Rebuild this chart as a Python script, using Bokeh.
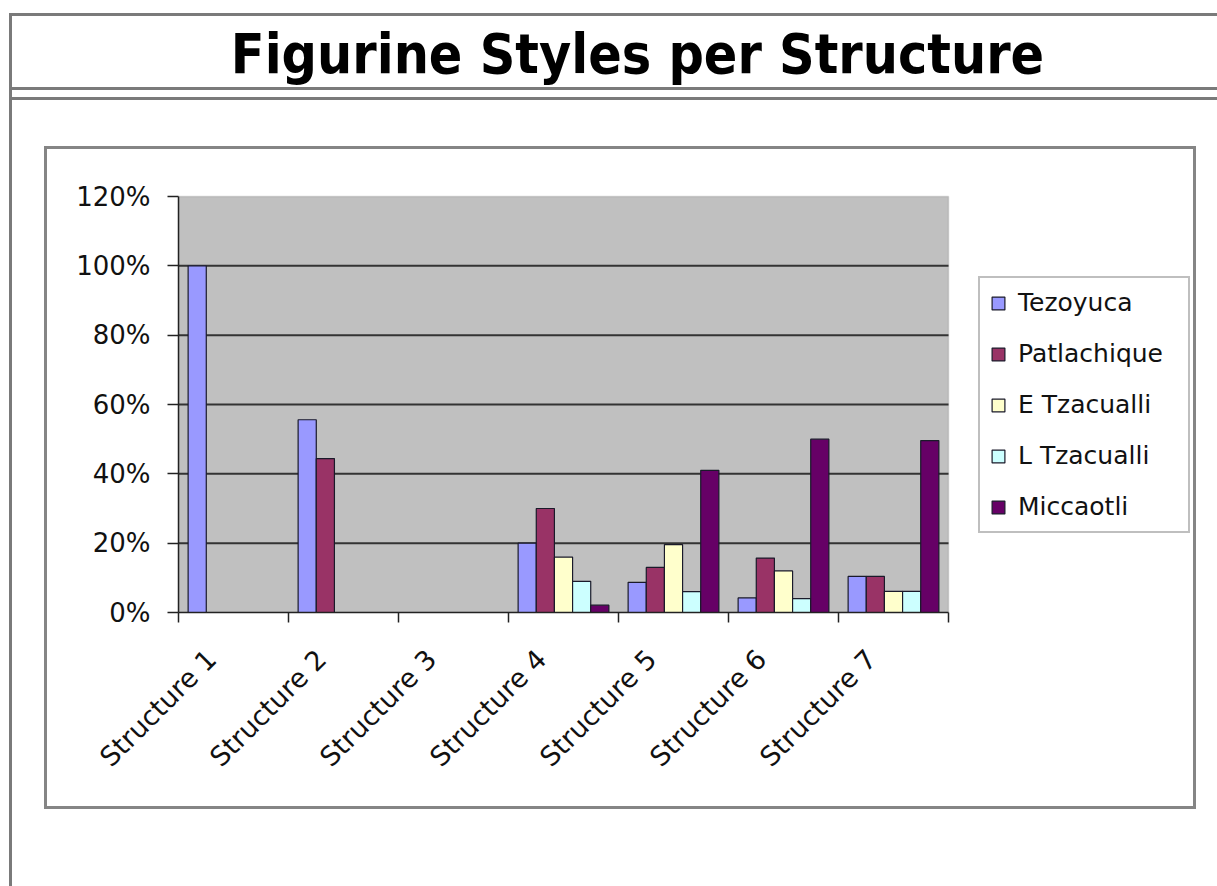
import math
from bokeh.plotting import figure
from bokeh.models import (FixedTicker, Legend, LegendItem, ColumnDataSource,
                          Range1d, NumeralTickFormatter, BoxAnnotation, Label)
from bokeh.embed import file_html
from bokeh.resources import INLINE

# ---- data ----
categories = ["Structure 1", "Structure 2", "Structure 3", "Structure 4",
              "Structure 5", "Structure 6", "Structure 7"]
series_names = ["Tezoyuca", "Patlachique", "E Tzacualli", "L Tzacualli", "Miccaotli"]
tezoyuca = [1.00, 0.556, 0.0, 0.20, 0.087, 0.042, 0.104]
patlachique = [0.0, 0.444, 0.0, 0.30, 0.13, 0.157, 0.104]
e_tzacualli = [0.0, 0.0, 0.0, 0.16, 0.196, 0.12, 0.061]
l_tzacualli = [0.0, 0.0, 0.0, 0.09, 0.06, 0.04, 0.061]
miccaotli = [0.0, 0.0, 0.0, 0.021, 0.41, 0.50, 0.496]
series_values = [tezoyuca, patlachique, e_tzacualli, l_tzacualli, miccaotli]
series_colors = ["#9999FF", "#993366", "#FFFFCC", "#CCFFFF", "#660066"]
y_ticks = [0.0, 0.2, 0.4, 0.6, 0.8, 1.0, 1.2]
title_text = "Figurine Styles per Structure"

# ---- layout (canvas pixels) ----
W, H = 1217, 886
PL, PR, PT, PB = 178, 948, 196, 612   # plot-area edges
n = len(categories)
y_max = y_ticks[-1]

# the frame spans from the plot area's left/bottom up to the canvas top/right
x_end = n * (W - PL) / (PR - PL)
y_end = y_max * PB / (PB - PT)


def sx(X):
    return X - PL


def sy(Y):
    return PB - Y


p = figure(width=W, height=H, output_backend="svg", toolbar_location=None,
           x_range=Range1d(0, x_end), y_range=Range1d(0, y_end),
           min_border_left=PL, min_border_right=0,
           min_border_top=0, min_border_bottom=H - PB)
p.background_fill_color = None
p.border_fill_color = None
p.outline_line_color = None
p.xgrid.visible = False
p.ygrid.visible = False

# slide decoration (frame lines, title rules, chart box) as CSS backdrop
G = "linear-gradient(#7a7a7a,#7a7a7a)"
C = "linear-gradient(#858585,#858585)"
lines = [  # (gradient, x, y, w, h)
    (G, 9, 13, 1208, 3),      # slide top
    (G, 9, 13, 3, 873),       # slide left
    (G, 9, 87, 1208, 3),      # title rule 1
    (G, 9, 97, 1208, 3),      # title rule 2
    (C, 44, 146, 1152, 3),    # chart box top
    (C, 44, 806, 1152, 3),    # chart box bottom
    (C, 44, 146, 3, 663),     # chart box left
    (C, 1193, 146, 3, 663),   # chart box right
]
p.styles = {
    "background-color": "white",
    "background-image": ",".join(l[0] for l in lines),
    "background-size": ",".join(f"{l[3]}px {l[4]}px" for l in lines),
    "background-position": ",".join(f"{l[1]}px {l[2]}px" for l in lines),
    "background-repeat": "no-repeat",
}

# plot-area background
p.add_layout(BoxAnnotation(left=0, right=n, bottom=0, top=y_max,
                           fill_color="#C0C0C0", fill_alpha=1,
                           line_color="#8a8a8a", line_width=1.5, level="image"))

# horizontal gridlines, bounded to the plot area
grid_y = y_ticks[1:-1]
p.segment(x0=[0] * len(grid_y), x1=[n] * len(grid_y), y0=grid_y, y1=grid_y,
          line_color="#333333", line_width=2, level="underlay")

# y axis
p.yaxis.bounds = (0, y_max)
p.yaxis.ticker = FixedTicker(ticks=y_ticks)
p.yaxis.formatter = NumeralTickFormatter(format="0%")
p.yaxis.axis_line_color = "#222222"
p.yaxis.axis_line_width = 1.5
p.yaxis.major_tick_line_color = "#222222"
p.yaxis.major_tick_line_width = 1.5
p.yaxis.major_tick_out = 11
p.yaxis.major_tick_in = 0
p.yaxis.minor_tick_line_color = None
p.yaxis.major_label_standoff = 17
p.yaxis.major_label_text_font = "DejaVu Sans"
p.yaxis.major_label_text_font_size = "26px"
p.yaxis.major_label_text_color = "#111111"

# x axis: labels near category centres, tick marks at category boundaries
label_pos = [i + 0.3 for i in range(n)]
p.xaxis.bounds = (0, n)
p.xaxis.ticker = FixedTicker(ticks=label_pos, minor_ticks=list(range(n + 1)))
p.xaxis.major_label_overrides = {c: lab for c, lab in zip(label_pos, categories)}
p.xaxis.major_tick_line_color = None
p.xaxis.major_tick_out = 10
p.xaxis.major_tick_in = 0
p.xaxis.minor_tick_line_color = "#222222"
p.xaxis.minor_tick_line_width = 1.5
p.xaxis.minor_tick_out = 10
p.xaxis.minor_tick_in = 0
p.xaxis.axis_line_color = "#222222"
p.xaxis.axis_line_width = 1.5
p.xaxis.major_label_orientation = math.pi / 4
p.xaxis.major_label_standoff = 32
p.xaxis.major_label_text_font = "DejaVu Sans"
p.xaxis.major_label_text_font_size = "27px"
p.xaxis.major_label_text_color = "#111111"

# bars
bw = 0.165
items = []
for k, (name, vals, col) in enumerate(zip(series_names, series_values, series_colors)):
    xs = [i + 0.5 + (k - 2) * bw for i in range(n) if vals[i] > 0]
    tops = [v for v in vals if v > 0]
    src = ColumnDataSource(dict(x=xs, top=tops))
    r = p.vbar(x="x", top="top", bottom=0, width=bw, source=src,
               fill_color=col, line_color="#1a1a2a", line_width=1.2)
    items.append(LegendItem(label=name, renderers=[r]))

legend = Legend(items=items, location=(sx(978), sy(533)),
                orientation="vertical", margin=0, padding=10, spacing=22,
                label_height=28, glyph_height=16, glyph_width=16,
                label_standoff=12, label_width=160,
                label_text_font="DejaVu Sans", label_text_font_size="25px",
                label_text_color="#111111",
                border_line_color="#808080", border_line_width=2,
                background_fill_color="white", background_fill_alpha=1)
p.add_layout(legend)

# title
p.add_layout(Label(x=sx(637), y=sy(53), x_units="screen", y_units="screen",
                   text=title_text, text_align="center", text_baseline="alphabetic",
                   text_font="DejaVu Sans Condensed", text_font_style="bold",
                   text_font_size="55px", text_color="black"))

open("out.html", "w").write(file_html(p, INLINE))
